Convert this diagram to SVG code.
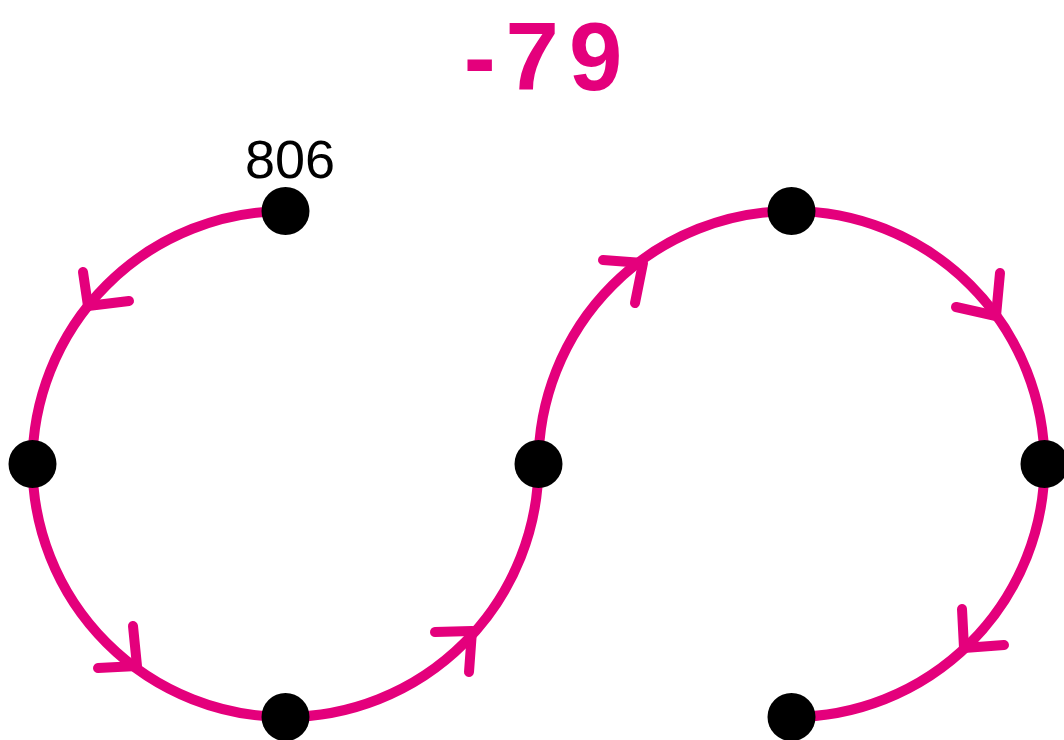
<svg xmlns="http://www.w3.org/2000/svg" width="1064" height="740" viewBox="0 0 1064 740">
  <style>
    .edge { fill: none; stroke: #E4007C; stroke-width: 10; stroke-linecap: round; stroke-linejoin: round; }
    .dot { fill: #000000; }
    .lbl { font-family: "Liberation Sans", "DejaVu Sans", sans-serif; }
  </style>
  <rect width="1064" height="740" fill="#ffffff"/>
  <text id="title" class="lbl" x="548" y="90" text-anchor="middle" font-size="96" font-weight="bold" fill="#E4007C" letter-spacing="10">-79</text>
  <g id="connectors">
    <path class="edge" d="M285.5,211 A253,253 0 0 0 32.5,464 A253,253 0 0 0 285.5,717 A253,253 0 0 0 538.5,464 A253,253 0 0 1 791.5,211 A253,253 0 0 1 1044.5,464 A253,253 0 0 1 791.5,717"/>
    <polyline class="edge" points="83,272 88,306 129,301"/>
    <polyline class="edge" points="133,626 137,666 98,668"/>
    <polyline class="edge" points="435,632 472,631 469,672"/>
    <polyline class="edge" points="603,260 643,263 635,303"/>
    <polyline class="edge" points="1000,273 996,316 956,307"/>
    <polyline class="edge" points="962,609 964,648 1004,645"/>
  </g>
  <g id="n806">
    <circle class="dot" cx="285.5" cy="211" r="24"/>
    <text class="lbl" x="290" y="178" text-anchor="middle" font-size="54" fill="#000000">806</text>
  </g>
  <g id="nLeft"><circle class="dot" cx="32.5" cy="464" r="24"/></g>
  <g id="nBottomL"><circle class="dot" cx="285.5" cy="717" r="24"/></g>
  <g id="nMid"><circle class="dot" cx="538.5" cy="464" r="24"/></g>
  <g id="nTopR"><circle class="dot" cx="791.5" cy="211" r="24"/></g>
  <g id="nRight"><circle class="dot" cx="1044.5" cy="464" r="24"/></g>
  <g id="nBottomR"><circle class="dot" cx="791.5" cy="717" r="24"/></g>
</svg>
